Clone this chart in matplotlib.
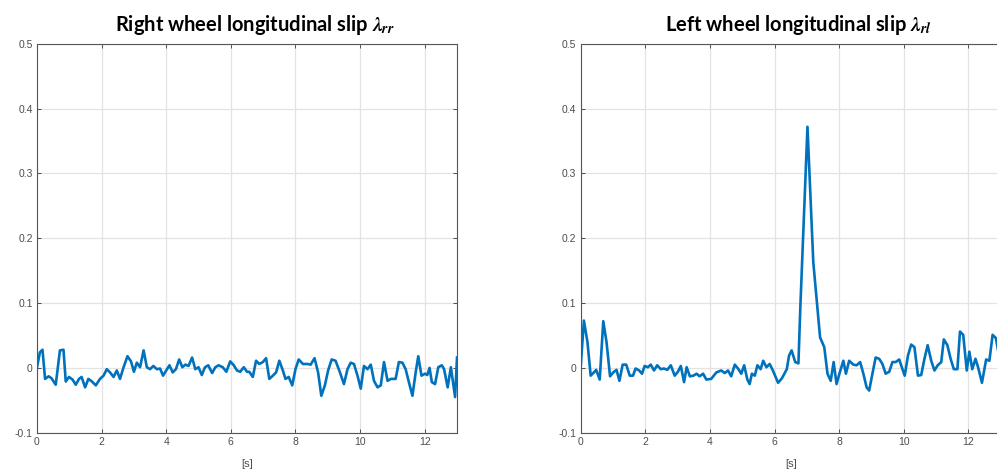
import numpy as np
import matplotlib
matplotlib.use("Agg")
import matplotlib.pyplot as plt

# Right wheel slip samples
t_rr = [0.0, 0.09, 0.17, 0.25, 0.36, 0.45, 0.58, 0.71, 0.82, 0.89, 0.99, 1.1, 1.2, 1.3, 1.38,
        1.49, 1.59, 1.7, 1.82, 1.95, 2.06, 2.16, 2.26, 2.37, 2.47, 2.57, 2.68, 2.8, 2.91, 3.0,
        3.09, 3.19, 3.3, 3.4, 3.5, 3.6, 3.71, 3.81, 3.9, 4.0, 4.1, 4.2, 4.3, 4.4, 4.5, 4.59,
        4.69, 4.8, 4.9, 5.0, 5.1, 5.2, 5.3, 5.42, 5.52, 5.62, 5.75, 5.86, 5.98, 6.09, 6.19,
        6.29, 6.4, 6.5, 6.57, 6.68, 6.78, 6.88, 6.99, 7.09, 7.19, 7.3, 7.4, 7.5, 7.61, 7.69,
        7.79, 7.9, 8.0, 8.1, 8.23, 8.37, 8.47, 8.59, 8.7, 8.8, 8.91, 9.01, 9.12, 9.24, 9.37,
        9.5, 9.61, 9.71, 9.81, 9.92, 10.02, 10.12, 10.23, 10.33, 10.43, 10.54, 10.64, 10.74,
        10.85, 10.95, 11.1, 11.2, 11.31, 11.41, 11.51, 11.62, 11.72, 11.8, 11.9, 12.01, 12.08,
        12.15, 12.22, 12.32, 12.42, 12.53, 12.6, 12.71, 12.81, 12.86, 12.94, 13.0]
slip_rr = [0.001, 0.024, 0.028, -0.017, -0.013, -0.016, -0.026, 0.027, 0.028, -0.021, -0.014,
           -0.018, -0.026, -0.017, -0.014, -0.030, -0.017, -0.021, -0.027, -0.017, -0.012,
           -0.002, -0.007, -0.014, -0.004, -0.017, 0.001, 0.018, 0.010, -0.006, 0.008, 0.001,
           0.027, 0.001, -0.002, 0.003, -0.002, -0.001, -0.012, -0.004, 0.004, -0.007, -0.002,
           0.013, 0.001, 0.005, 0.003, 0.016, -0.002, 0.001, -0.011, 0.001, 0.004, -0.008,
           0.001, 0.004, 0.001, -0.006, 0.010, 0.004, -0.004, -0.006, 0.001, -0.006, -0.006,
           -0.014, 0.011, 0.006, 0.009, 0.015, -0.017, -0.012, -0.007, 0.011, -0.004, -0.017,
           -0.014, -0.027, -0.002, 0.013, 0.006, 0.006, 0.005, 0.015, -0.007, -0.043, -0.027,
           -0.004, 0.013, 0.011, -0.006, -0.025, -0.002, 0.008, 0.006, -0.012, -0.032, 0.003,
           -0.002, 0.005, -0.020, -0.030, -0.027, 0.009, -0.020, -0.017, -0.017, 0.009, 0.008,
           -0.002, -0.022, -0.043, -0.007, 0.018, -0.012, -0.009, -0.011, 0.0, -0.022, -0.025,
           0.001, 0.004, -0.002, -0.030, 0.001, -0.017, -0.045, 0.016]

# Left wheel slip samples
t_rl = [0.0, 0.1, 0.21, 0.31, 0.41, 0.48, 0.59, 0.7, 0.8, 0.91, 1.01, 1.11, 1.2, 1.3, 1.41,
        1.52, 1.62, 1.7, 1.81, 1.9, 1.98, 2.08, 2.17, 2.27, 2.37, 2.48, 2.58, 2.68, 2.79, 2.91,
        3.01, 3.1, 3.2, 3.28, 3.38, 3.49, 3.59, 3.68, 3.79, 3.89, 4.04, 4.2, 4.35, 4.46, 4.56,
        4.66, 4.77, 4.87, 4.97, 5.06, 5.16, 5.23, 5.3, 5.39, 5.47, 5.57, 5.65, 5.75, 5.85,
        5.95, 6.11, 6.23, 6.38, 6.45, 6.53, 6.64, 6.74, 6.8, 7.02, 7.2, 7.41, 7.54, 7.64, 7.74,
        7.83, 7.92, 8.02, 8.13, 8.21, 8.31, 8.44, 8.54, 8.65, 8.75, 8.85, 8.93, 9.03, 9.13,
        9.24, 9.34, 9.44, 9.55, 9.65, 9.75, 9.86, 9.94, 10.03, 10.13, 10.23, 10.33, 10.44,
        10.54, 10.64, 10.74, 10.85, 10.95, 11.05, 11.16, 11.24, 11.35, 11.45, 11.55, 11.66,
        11.74, 11.84, 11.95, 12.03, 12.12, 12.22, 12.3, 12.42, 12.55, 12.65, 12.75, 12.85,
        12.93, 13.0]
slip_rl = [0.0, 0.073, 0.040, -0.012, -0.007, -0.003, -0.018, 0.072, 0.040, -0.013, -0.007,
           -0.003, -0.020, 0.005, 0.005, -0.012, -0.012, -0.001, -0.004, -0.009, 0.003, 0.001,
           0.005, -0.004, 0.004, -0.002, -0.001, -0.003, 0.004, -0.012, -0.006, 0.003, -0.022,
           0.001, -0.013, -0.012, -0.009, -0.013, -0.009, -0.018, -0.017, -0.007, -0.004,
           -0.008, -0.004, -0.013, 0.005, -0.001, -0.009, 0.004, -0.018, -0.025, -0.009,
           -0.012, 0.004, -0.002, 0.011, 0.001, 0.006, -0.004, -0.023, -0.016, -0.002, 0.019,
           0.027, 0.009, 0.007, 0.095, 0.372, 0.163, 0.047, 0.032, -0.009, -0.020, 0.009,
           -0.025, -0.007, 0.011, -0.009, 0.011, 0.005, 0.004, 0.009, -0.009, -0.030, -0.035,
           -0.009, 0.016, 0.014, 0.006, -0.009, -0.006, 0.009, 0.009, 0.013, 0.001, -0.012,
           0.019, 0.036, 0.032, -0.012, -0.011, 0.014, 0.035, 0.011, -0.004, 0.004, 0.009,
           0.044, 0.035, 0.014, -0.002, -0.002, 0.056, 0.051, -0.004, 0.025, -0.002, 0.014,
           0.001, -0.023, 0.013, 0.011, 0.051, 0.046, 0.024, 0.010]

titles = [r"Right wheel longitudinal slip $\lambda_{rr}$",
          r"Left wheel longitudinal slip $\lambda_{rl}$"]
xticks = [0, 2, 4, 6, 8, 10, 12]
yticks = [-0.1, 0, 0.1, 0.2, 0.3, 0.4, 0.5]
ytick_labels = ["-0.1", "0", "0.1", "0.2", "0.3", "0.4", "0.5"]

# bold italic math for the lambda symbols in the titles
plt.rcParams["mathtext.fontset"] = "custom"
plt.rcParams["mathtext.it"] = "STIXGeneral:italic:bold"
plt.rcParams["mathtext.rm"] = "STIXGeneral:bold"

fig = plt.figure(figsize=(9.97, 4.73), dpi=100)
blue = "#0072BD"
tick_col = "#4d4d4d"

axes_pos = [[0.0371, 0.0852, 0.4213, 0.8222],
            [0.5824, 0.0852, 0.4213, 0.8222]]
title_x = [255 / 997, 798 / 997]

for pos, tx, title, t, s in zip(axes_pos, title_x, titles, [t_rr, t_rl], [slip_rr, slip_rl]):
    ax = fig.add_axes(pos)
    ax.plot(t, s, color=blue, lw=1.9)
    ax.set_xlim(0, 13)
    ax.set_ylim(-0.1, 0.5)
    ax.set_xticks(xticks)
    ax.set_xticklabels([str(v) for v in xticks])
    ax.set_yticks(yticks)
    ax.set_yticklabels(ytick_labels)
    ax.grid(True, color="#e3e3e3", lw=0.9)
    ax.set_axisbelow(True)
    ax.tick_params(direction="in", length=3, width=0.7, top=True, right=True,
                   labelsize=7.5, colors=tick_col, labelcolor=tick_col, pad=3)
    for sp in ax.spines.values():
        sp.set_color("#555555")
        sp.set_linewidth(0.8)
    ax.set_xlabel("[s]", fontsize=8, color=tick_col, labelpad=9, family="Liberation Sans")
    for lab in ax.get_xticklabels() + ax.get_yticklabels():
        lab.set_family("Liberation Sans")
    fig.text(tx, 1 - 25 / 473, title, ha="center", va="center", fontsize=14.5,
             fontweight="bold", family="Lato")

fig.savefig("out.png", dpi=100)
